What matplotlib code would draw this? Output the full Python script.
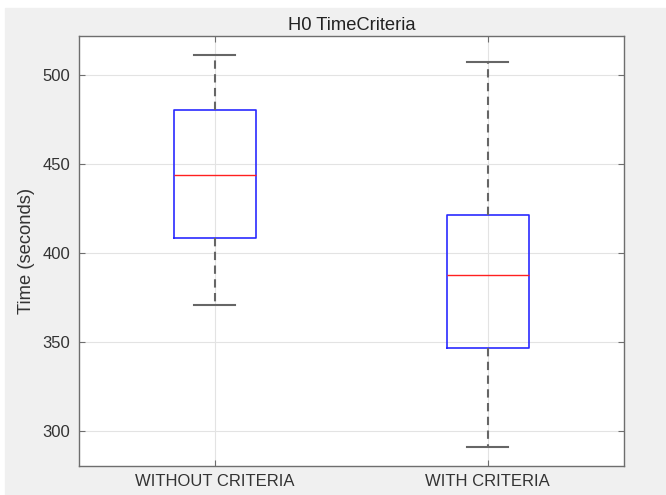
import matplotlib
matplotlib.use('Agg')
import matplotlib.pyplot as plt
from matplotlib.patches import Rectangle

plt.rcParams['font.family'] = ['Liberation Sans', 'DejaVu Sans']

labels = ['WITHOUT CRITERIA', 'WITH CRITERIA']
whis_lo = [370.7, 290.5]
q1 = [408.4, 346.5]
med = [443.9, 387.7]
q3 = [480.6, 421.3]
whis_hi = [511.6, 507.5]

stats = []
for i in range(len(labels)):
    stats.append(dict(label=labels[i], whislo=whis_lo[i], q1=q1[i],
                      med=med[i], q3=q3[i], whishi=whis_hi[i], fliers=[]))

fig = plt.figure(figsize=(6.66, 4.95), dpi=100, facecolor='white')
# matlab-ish grey figure panel
fig.patches.append(Rectangle((5 / 666, 0), 1, 1 - 8 / 495,
                             transform=fig.transFigure, color='#f0f0f0',
                             zorder=-10))

ax = fig.add_axes([0.1179, 0.0592, 0.937 - 0.1179, 0.9279 - 0.0592])
ax.set_facecolor('white')

ax.bxp(stats, positions=[1, 2], widths=0.3, showfliers=False,
       boxprops=dict(color='#2a2aff', lw=1.2),
       medianprops=dict(color='#ff2020', lw=1.0),
       whiskerprops=dict(color='#666666', lw=1.5, linestyle=(0, (4, 2.6))),
       capprops=dict(color='#666666', lw=1.5), capwidths=0.15)

ax.set_xlim(0.5, 2.5)
ax.set_ylim(280.2, 522.3)
ax.set_yticks([300, 350, 400, 450, 500])
ax.set_xticks([1, 2])
ax.set_xticklabels(labels)

ax.grid(True, color='#e3e3e3', lw=0.8)
ax.set_axisbelow(True)

for s in ax.spines.values():
    s.set_color('#6e6e6e')
    s.set_linewidth(1.0)

ax.tick_params(direction='in', length=4, color='#6e6e6e', labelsize=12,
               labelcolor='#333333', top=True, right=True, pad=6)

ax.set_ylabel('Time (seconds)', fontsize=13.2, color='#333333', labelpad=5)
ax.set_title('H0 TimeCriteria', fontsize=13.2, color='#222222', pad=4)

plt.savefig('out.png', dpi=100, facecolor=fig.get_facecolor())
